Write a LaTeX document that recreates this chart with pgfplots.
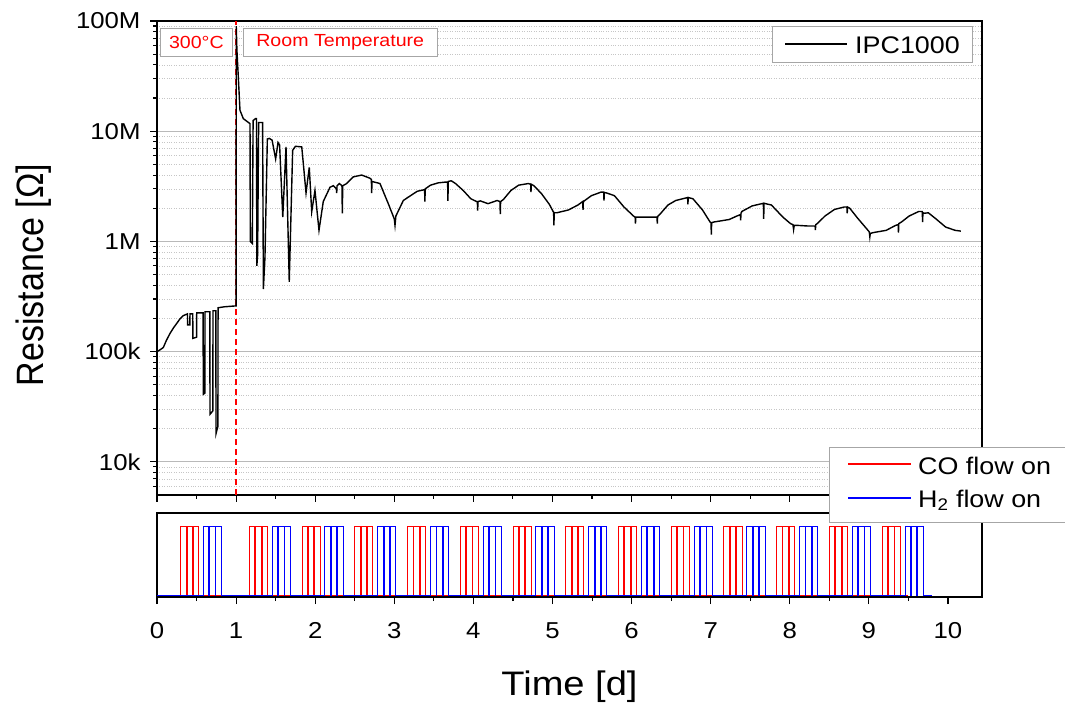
\documentclass[border=0pt]{standalone}
\usepackage{pgfplots}
\pgfplotsset{compat=1.18}
\usepackage{graphicx}
\usepackage{fontspec}
\setmainfont[FakeStretch=1.12]{Liberation Sans}
\newfontfamily\plainfont{Liberation Sans}
\begin{document}
\begin{tikzpicture}
\pgfplotsset{
  every axis/.append style={
    scale only axis, width=825pt,
    xmin=0, xmax=10.43,
    axis line style={line width=1.3pt},
    every tick/.style={black, line width=1.1pt},
    tick align=outside,
    major tick length=7pt, minor tick length=4pt,
    /pgf/number format/assume math mode=true,
    tick label style={font=\fontsize{23}{27}\selectfont},
  }
}
% ---------------- top panel ----------------
\begin{axis}[
  at={(157pt,210pt)}, anchor=south west, height=474pt,
  ymode=log, ymin=5000, ymax=1e8,
  xtick={0,1,2,3,4,5,6,7,8,9,10}, minor x tick num=1, xticklabels={},
  ytick={1e4,1e5,1e6,1e7,1e8}, yticklabels={10k,100k,1M,10M,100M},
  minor ytick={6000,7000,8000,9000,2e4,3e4,4e4,5e4,6e4,7e4,8e4,9e4,2e5,3e5,4e5,5e5,6e5,7e5,8e5,9e5,2e6,3e6,4e6,5e6,6e6,7e6,8e6,9e6,2e7,3e7,4e7,5e7,6e7,7e7,8e7,9e7},
  xtick pos=bottom, ytick pos=left,
  yticklabel style={xshift=-6pt},
  ymajorgrids, yminorgrids,
  major grid style={draw=gray!55, line width=1.2pt},
  minor grid style={draw=gray!45, dotted, line width=0.6pt},
  ylabel={\scalebox{1}[1.12]{\plainfont Resistance [Ω]}},
  ylabel style={font=\fontsize{34}{40}\selectfont, at={(axis description cs:-0.137,0.464)}, anchor=base},
]
\addplot[red, dashed, line width=1.3pt, dash pattern=on 6pt off 4pt, forget plot] coordinates {(1,5000) (1,1e8)};
\addplot[draw=black, line width=1.4pt] coordinates {
(0,1.0e5) (0.04,1.04e5) (0.08,1.09e5) (0.12,1.27e5) (0.164,1.46e5) (0.21,1.65e5) (0.249,1.80e5)
(0.29,1.98e5) (0.332,2.12e5) (0.385,2.2e5) (0.387,1.75e5) (0.415,1.75e5) (0.417,2.2e5)
(0.452,2.2e5) (0.454,1.32e5) (0.500,1.35e5) (0.502,2.25e5) (0.583,2.25e5) (0.585,4.1e4)
(0.605,4.2e4) (0.607,2.3e5) (0.668,2.3e5) (0.670,2.7e4) (0.706,2.9e4) (0.708,2.35e5)
(0.744,2.35e5) (0.746,1.8e4) (0.770,2.1e4) (0.772,2.5e5) (0.85,2.55e5) (0.998,2.6e5)
(1.0,2.6e5) (1.002,9.0e7) (1.01,5.5e7) (1.028,3.1e7) (1.049,1.55e7) (1.091,1.3e7) (1.176,1.17e7)
(1.180,1.0e6) (1.205,9.6e5) (1.215,1.25e7) (1.245,1.3e7) (1.258,1.3e7) (1.262,6.0e5) (1.272,7.5e5)
(1.285,1.2e7) (1.335,1.2e7) (1.345,3.7e5) (1.365,7.2e5) (1.395,8.5e6) (1.42,8.6e6) (1.455,8.3e6)
(1.50,5.6e6) (1.53,7.9e6) (1.55,7.5e6) (1.59,1.66e6) (1.631,7.2e6) (1.672,4.3e5) (1.715,6.7e6)
(1.75,7.3e6) (1.83,7.2e6) (1.858,4.4e6) (1.884,2.75e6) (1.925,4.7e6) (1.956,1.86e6) (1.997,2.9e6)
(2.048,1.26e6) (2.102,2.3e6) (2.187,3.1e6) (2.229,3.2e6) (2.268,3.0e6) (2.272,2.75e6) (2.276,3.2e6)
(2.305,3.35e6) (2.338,3.2e6) (2.343,1.8e6) (2.348,3.2e6) (2.398,3.35e6) (2.482,3.85e6) (2.588,4.0e6)
(2.690,3.75e6) (2.710,3.65e6) (2.714,2.75e6) (2.718,3.5e6) (2.819,3.35e6) (2.924,2.2e6) (3.000,1.6e6)
(3.009,1.4e6) (3.02,1.7e6) (3.114,2.35e6) (3.169,2.5e6) (3.290,2.85e6) (3.383,2.95e6) (3.387,2.3e6)
(3.391,3.0e6) (3.459,3.24e6) (3.556,3.4e6) (3.643,3.45e6) (3.674,3.45e6) (3.678,2.33e6) (3.682,3.5e6)
(3.72,3.55e6) (3.774,3.35e6) (3.871,2.9e6) (3.967,2.44e6) (4.040,2.3e6) (4.050,2.3e6) (4.054,1.9e6)
(4.058,2.3e6) (4.088,2.33e6) (4.185,2.2e6) (4.300,2.35e6) (4.336,2.3e6) (4.340,1.77e6) (4.344,2.3e6)
(4.379,2.4e6) (4.475,2.9e6) (4.573,3.24e6) (4.694,3.35e6) (4.724,3.3e6) (4.728,2.8e6) (4.732,3.3e6)
(4.766,3.2e6) (4.863,2.7e6) (4.960,2.17e6) (5.008,1.87e6) (5.014,1.85e6) (5.018,1.4e6) (5.022,1.82e6)
(5.057,1.82e6) (5.202,1.93e6) (5.322,2.14e6) (5.382,2.3e6) (5.386,1.93e6) (5.390,2.3e6) (5.492,2.6e6)
(5.613,2.8e6) (5.647,2.8e6) (5.651,2.35e6) (5.655,2.78e6) (5.685,2.75e6) (5.783,2.6e6) (5.904,2.05e6)
(6.024,1.7e6) (6.045,1.66e6) (6.049,1.45e6) (6.053,1.66e6) (6.073,1.66e6) (6.267,1.66e6) (6.321,1.66e6)
(6.325,1.45e6) (6.329,1.68e6) (6.354,1.75e6) (6.460,2.14e6) (6.558,2.35e6) (6.708,2.5e6) (6.712,2.17e6)
(6.716,2.5e6) (6.775,2.44e6) (6.896,1.93e6) (6.992,1.5e6) (7.004,1.48e6) (7.008,1.15e6) (7.012,1.48e6)
(7.040,1.5e6) (7.234,1.58e6) (7.331,1.7e6) (7.375,1.75e6) (7.379,1.55e6) (7.383,1.8e6) (7.394,1.87e6)
(7.525,2.1e6) (7.646,2.2e6) (7.666,2.22e6) (7.670,1.6e6) (7.674,2.22e6) (7.694,2.2e6) (7.767,2.14e6)
(7.913,1.66e6) (8.009,1.45e6) (8.040,1.42e6) (8.048,1.28e6) (8.056,1.4e6) (8.081,1.4e6) (8.226,1.38e6)
(8.320,1.38e6) (8.324,1.27e6) (8.328,1.42e6) (8.348,1.45e6) (8.445,1.7e6) (8.565,1.95e6) (8.687,2.05e6)
(8.722,2.05e6) (8.726,1.8e6) (8.730,2.05e6) (8.758,2.0e6) (8.856,1.63e6) (8.953,1.35e6) (9.005,1.22e6)
(9.012,1.1e6) (9.018,1.18e6) (9.049,1.2e6) (9.219,1.26e6) (9.340,1.4e6) (9.370,1.42e6) (9.374,1.2e6)
(9.378,1.45e6) (9.412,1.5e6) (9.509,1.7e6) (9.631,1.87e6) (9.675,1.87e6) (9.679,1.5e6) (9.683,1.82e6)
(9.703,1.8e6) (9.751,1.82e6) (9.848,1.6e6) (9.970,1.35e6) (10.090,1.26e6) (10.163,1.24e6)
};
\node[draw=gray!70, line width=0.8pt, fill=white, text=red, font=\fontsize{17.5}{21}\selectfont,
  anchor=north west, minimum width=72pt, minimum height=28pt, inner sep=2pt]
  at (rel axis cs:0.0036,0.985) {300°C};
\node[draw=gray!70, line width=0.8pt, fill=white, text=red, font=\fontsize{17.5}{21}\selectfont,
  anchor=north west, minimum width=194pt, minimum height=28pt, inner sep=2pt]
  at (rel axis cs:0.104,0.985) {Room Temperature};
\end{axis}
% ---------------- bottom panel ----------------
\begin{axis}[
  at={(157pt,108pt)}, anchor=south west, height=84pt,
  ymin=-0.03, ymax=1.2, ytick=\empty,
  xtick={0,1,2,3,4,5,6,7,8,9,10}, minor x tick num=1,
  xtick pos=bottom,
  xticklabel style={yshift=-15pt},
  xlabel={Time [d]},
  xlabel style={font=\fontsize{34}{40}\selectfont, at={(axis description cs:0.5,-1.167)}, anchor=base},
]
\addplot[draw=red, line width=0.9pt, const plot mark left] coordinates {
(0,0)
(0.30,1) (0.37,0) (0.38,1) (0.45,0) (0.46,1) (0.53,0)
(1.167,1) (1.237,0) (1.247,1) (1.317,0) (1.327,1) (1.397,0)
(1.833,1) (1.903,0) (1.913,1) (1.983,0) (1.993,1) (2.063,0)
(2.50,1) (2.57,0) (2.58,1) (2.65,0) (2.66,1) (2.73,0)
(3.167,1) (3.237,0) (3.247,1) (3.317,0) (3.327,1) (3.397,0)
(3.833,1) (3.903,0) (3.913,1) (3.983,0) (3.993,1) (4.063,0)
(4.50,1) (4.57,0) (4.58,1) (4.65,0) (4.66,1) (4.73,0)
(5.167,1) (5.237,0) (5.247,1) (5.317,0) (5.327,1) (5.397,0)
(5.833,1) (5.903,0) (5.913,1) (5.983,0) (5.993,1) (6.063,0)
(6.50,1) (6.57,0) (6.58,1) (6.65,0) (6.66,1) (6.73,0)
(7.167,1) (7.237,0) (7.247,1) (7.317,0) (7.327,1) (7.397,0)
(7.833,1) (7.903,0) (7.913,1) (7.983,0) (7.993,1) (8.063,0)
(8.50,1) (8.57,0) (8.58,1) (8.65,0) (8.66,1) (8.73,0)
(9.167,1) (9.237,0) (9.247,1) (9.317,0) (9.327,1) (9.397,0)
(9.5,0)
};
\addplot[draw=blue, line width=0.9pt, const plot mark left] coordinates {
(0,0)
(0.585,1) (0.655,0) (0.665,1) (0.735,0) (0.745,1) (0.815,0)
(1.457,1) (1.527,0) (1.537,1) (1.607,0) (1.617,1) (1.687,0)
(2.123,1) (2.193,0) (2.203,1) (2.273,0) (2.283,1) (2.353,0)
(2.79,1) (2.86,0) (2.87,1) (2.94,0) (2.95,1) (3.02,0)
(3.457,1) (3.527,0) (3.537,1) (3.607,0) (3.617,1) (3.687,0)
(4.123,1) (4.193,0) (4.203,1) (4.273,0) (4.283,1) (4.353,0)
(4.79,1) (4.86,0) (4.87,1) (4.94,0) (4.95,1) (5.02,0)
(5.457,1) (5.527,0) (5.537,1) (5.607,0) (5.617,1) (5.687,0)
(6.123,1) (6.193,0) (6.203,1) (6.273,0) (6.283,1) (6.353,0)
(6.79,1) (6.86,0) (6.87,1) (6.94,0) (6.95,1) (7.02,0)
(7.457,1) (7.527,0) (7.537,1) (7.607,0) (7.617,1) (7.687,0)
(8.123,1) (8.193,0) (8.203,1) (8.273,0) (8.283,1) (8.353,0)
(8.79,1) (8.86,0) (8.87,1) (8.94,0) (8.95,1) (9.02,0)
(9.457,1) (9.527,0) (9.537,1) (9.607,0) (9.617,1) (9.687,0)
(9.80,0)
};
\end{axis}
% ---------------- legends (drawn as boxes in picture coordinates, 1pt = 1px) ----------------
% IPC1000 legend
\draw[gray!70, line width=0.8pt, fill=white] (772.5pt,678.5pt) rectangle (972pt,643pt);
\draw[black, line width=1.4pt] (785pt,661pt) -- (847pt,661pt);
\node[anchor=base west, inner sep=0pt, font=\fontsize{24}{28}\selectfont] at (855pt,651.7pt) {IPC1000};
% gas legend
\draw[gray!70, line width=0.8pt, fill=white] (829.5pt,258pt) rectangle (1085pt,183pt);
\draw[red, line width=1.2pt] (848pt,241pt) -- (911pt,241pt);
\node[anchor=base west, inner sep=0pt, font=\fontsize{24}{28}\selectfont] at (918pt,231pt) {CO flow on};
\draw[blue, line width=1.2pt] (848pt,207pt) -- (911pt,207pt);
\node[anchor=base west, inner sep=0pt, font=\fontsize{24}{28}\selectfont] at (918pt,198pt) {H\textsubscript{2} flow on};
\pgfresetboundingbox
\useasboundingbox (0pt,0pt) rectangle (1065pt,705pt);
\end{tikzpicture}
\end{document}
